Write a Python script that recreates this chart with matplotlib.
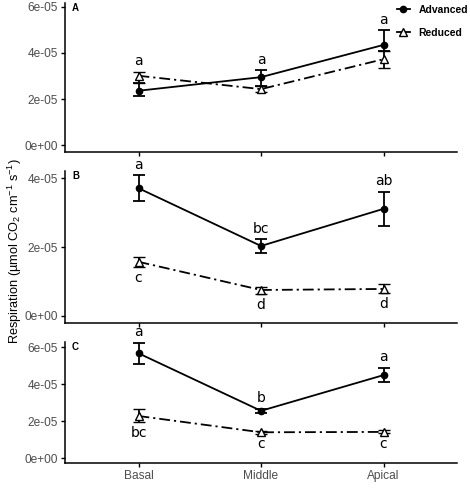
import numpy as np
import matplotlib
matplotlib.use("Agg")
import matplotlib.pyplot as plt
from matplotlib.lines import Line2D
from matplotlib.ticker import FuncFormatter

plt.rcParams["mathtext.fontset"] = "custom"
plt.rcParams["mathtext.rm"] = "Liberation Sans"
plt.rcParams["mathtext.it"] = "Liberation Sans:italic"

positions = ["Basal", "Middle", "Apical"]

# values in units of 1e-05 umol CO2 cm-1 s-1
# panel A
a_adv = [2.36, 2.95, 4.35]
a_adv_lo = [2.13, 2.57, 4.10]
a_adv_hi = [2.71, 3.26, 5.00]
a_red = [3.01, 2.43, 3.73]
a_red_lo = [2.71, 2.30, 3.33]
a_red_hi = [3.19, 2.58, 4.10]
a_top_letters = ["a", "a", "a"]
a_bot_letters = None

# panel B
b_adv = [3.71, 2.03, 3.11]
b_adv_lo = [3.34, 1.83, 2.62]
b_adv_hi = [4.08, 2.23, 3.61]
b_red = [1.57, 0.75, 0.78]
b_red_lo = [1.41, 0.62, 0.65]
b_red_hi = [1.72, 0.84, 0.91]
b_top_letters = ["a", "bc", "ab"]
b_bot_letters = ["c", "d", "d"]

# panel C
c_adv = [5.68, 2.57, 4.50]
c_adv_lo = [5.11, 2.43, 4.11]
c_adv_hi = [6.25, 2.68, 4.90]
c_red = [2.29, 1.41, 1.43]
c_red_lo = [1.96, 1.33, 1.35]
c_red_hi = [2.66, 1.49, 1.51]
c_top_letters = ["a", "b", "a"]
c_bot_letters = ["bc", "c", "c"]

panels = [
    ("A", a_adv, a_adv_lo, a_adv_hi, a_red, a_red_lo, a_red_hi, a_top_letters, a_bot_letters, (-0.30, 6.17), [0, 2, 4, 6]),
    ("B", b_adv, b_adv_lo, b_adv_hi, b_red, b_red_lo, b_red_hi, b_top_letters, b_bot_letters, (-0.21, 4.21), [0, 2, 4]),
    ("C", c_adv, c_adv_lo, c_adv_hi, c_red, c_red_lo, c_red_hi, c_top_letters, c_bot_letters, (-0.25, 6.29), [0, 2, 4, 6]),
]

# axes boxes in pixels (left, top, right, bottom)
W, H = 470, 495
boxes = [
    (65, 3, 457, 152),
    (65, 171, 457, 323),
    (65, 342, 457, 463),
]

fig = plt.figure(figsize=(4.7, 4.95), dpi=100)
tick_font = "Liberation Sans"
grey = "#4D4D4D"
dashdot = (0, (6, 2.2, 1.2, 2.2))
sc = 1e-5

for (lab, adv, adv_lo, adv_hi, red, red_lo, red_hi, top_l, bot_l, ylim, yt), (x0, y0, x1, y1) in zip(panels, boxes):
    ax = fig.add_axes([x0 / W, 1 - y1 / H, (x1 - x0) / W, (y1 - y0) / H])
    x = np.arange(1, 4)
    adv = np.array(adv) * sc
    red = np.array(red) * sc
    adv_err = [adv - np.array(adv_lo) * sc, np.array(adv_hi) * sc - adv]
    red_err = [red - np.array(red_lo) * sc, np.array(red_hi) * sc - red]
    ax.errorbar(x, red, yerr=red_err, color="black", lw=1.3, ls=dashdot,
                marker="^", mfc="white", mec="black", ms=5.5, mew=1,
                capsize=4.5, capthick=1.3, elinewidth=1.3)
    ax.errorbar(x, adv, yerr=adv_err, color="black", lw=1.3, ls="-",
                marker="o", mfc="black", mec="black", ms=4.5,
                capsize=4.5, capthick=1.3, elinewidth=1.3)
    # significance letters
    tops = np.maximum(np.array(adv_hi), np.array(red_hi)) * sc
    for xi, t, s in zip(x, tops, top_l):
        ax.annotate(s, (xi, t), xytext=(0, 7.5), textcoords="offset points",
                    ha="center", va="center", fontsize=10, family="DejaVu Sans")
    if bot_l is not None:
        for xi, b, s in zip(x, np.array(red_lo) * sc, bot_l):
            ax.annotate(s, (xi, b), xytext=(0, -7.5), textcoords="offset points",
                        ha="center", va="center", fontsize=10, family="DejaVu Sans")
    ax.text(7 / (x1 - x0), 1 - 5 / (y1 - y0), lab, transform=ax.transAxes,
            fontsize=7, fontweight="bold", family=tick_font, va="center", ha="left")
    ax.set_xlim(0.4, 3.6)
    ax.set_ylim(ylim[0] * sc, ylim[1] * sc)
    ax.set_yticks(np.array(yt) * sc)
    ax.yaxis.set_major_formatter(FuncFormatter(lambda v, p: f"{v:.0e}"))
    ax.set_xticks(x)
    if lab == "C":
        ax.set_xticklabels(positions)
    else:
        ax.set_xticklabels([])
    for s in ["top", "right"]:
        ax.spines[s].set_visible(False)
    for s in ["left", "bottom"]:
        ax.spines[s].set_linewidth(1.1)
    ax.tick_params(length=3, width=1, color="black", labelsize=8.6, labelcolor=grey, pad=2)
    for t in ax.get_xticklabels() + ax.get_yticklabels():
        t.set_family(tick_font)

fig.text(15 / W, 1 - 251 / H, r"Respiration (µmol CO$_2$ cm$^{-1}$ s$^{-1}$)",
         rotation=90, ha="center", va="center", fontsize=9.2, family=tick_font)

handles = [
    Line2D([], [], color="black", lw=1.3, marker="o", mfc="black", ms=4.5),
    Line2D([], [], color="black", lw=1.3, marker="^", mfc="white", mec="black", ms=5.5),
]
fig.legend(handles, ["Advanced", "Reduced"], loc="upper right", bbox_to_anchor=(1.005, 0.999),
           frameon=False, handlelength=1.3, handletextpad=0.8, labelspacing=1.25,
           prop={"family": tick_font, "weight": "bold", "size": 7.5}, borderaxespad=0.0)

fig.savefig("out.png", dpi=100)
